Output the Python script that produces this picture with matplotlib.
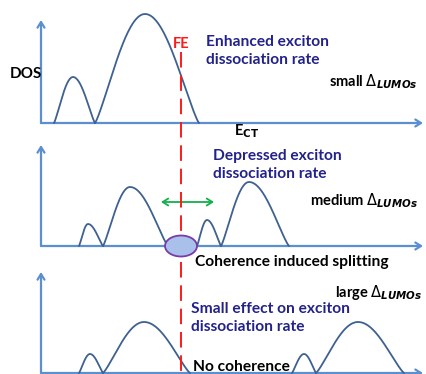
import numpy as np
import matplotlib.pyplot as plt
from matplotlib.patches import Ellipse, FancyArrowPatch

plt.rcParams['font.family'] = ['Lato', 'DejaVu Sans']
plt.rcParams['mathtext.fontset'] = 'dejavusans'

AXIS_C = '#5b8fcf'
CURVE_C = '#3e6191'
NAVY = '#22228a'

# each panel: baseline y, y-axis top, list of bumps (start, peak, end, height)
panel_base = [123, 246, 373]
panel_top = [20, 145, 272]
bumps = [
    [(54, 73, 95, 46), (95, 145, 199, 109)],
    [(79, 88, 103, 22), (103, 130, 168, 59), (197, 207, 221, 26), (221, 249, 289, 64)],
    [(79, 90, 103, 19), (103, 144, 190, 51), (292, 304, 316, 19), (316, 358, 404, 51)],
]
labels_rate = ['Enhanced exciton\ndissociation rate',
               'Depressed exciton\ndissociation rate',
               'Small effect on exciton\ndissociation rate']
labels_delta = ['small', 'medium', 'large']
fe_x = 181


def bump_curve(x0, xp, x1, h, n=80, p=1.2):
    # sine arch, slightly rounded where it meets the baseline
    xl = np.linspace(x0, xp, n)
    xr = np.linspace(xp, x1, n)
    yl = h * np.sin(np.pi / 2 * (xl - x0) / (xp - x0)) ** p
    yr = h * np.cos(np.pi / 2 * (xr - xp) / (x1 - xp)).clip(0) ** p
    return np.concatenate([xl, xr]), np.concatenate([yl, yr])


fig = plt.figure(figsize=(4.27, 3.74), dpi=100)
ax = fig.add_axes([0, 0, 1, 1])
ax.set_xlim(0, 427)
ax.set_ylim(374, 0)
ax.axis('off')

for base, top, bl in zip(panel_base, panel_top, bumps):
    # axes with arrow heads
    for (xa, ya), (xb, yb) in [((41, base), (41, top)), ((41, base), (423, base))]:
        ax.add_patch(FancyArrowPatch((xa, ya), (xb, yb), arrowstyle='->,head_length=4,head_width=2.5',
                                     color=AXIS_C, lw=1.6, mutation_scale=1, shrinkA=0, shrinkB=0))
    for b in bl:
        xs, ys = bump_curve(*b)
        ax.plot(xs, base - ys, color=CURVE_C, lw=1.3, solid_capstyle='round')

# Fermi energy marker
ax.plot([fe_x, fe_x], [52, 374], color='#ff1a1a', lw=1.4, dashes=(8, 4))
ax.text(fe_x, 44, 'FE', color='#ff1a1a', fontsize=10.5, fontweight='bold', ha='center', va='center')

# splitting region at FE in the middle panel
ax.add_patch(Ellipse((fe_x, panel_base[1]), 32, 21, facecolor='#a9c1ea', edgecolor='#7a3aa8', lw=1.3, zorder=3))
ax.add_patch(FancyArrowPatch((161, 202), (214, 202), arrowstyle='<->,head_length=4,head_width=2.5',
                             color='#12b04a', lw=1.3, mutation_scale=1, shrinkA=0, shrinkB=0))

ax.text(10, 74, 'DOS', fontsize=11, fontweight='bold', va='center')
ax.text(234, 131, r'E$_{\mathbf{CT}}$', fontsize=10.5, fontweight='bold', va='center')

rate_pos = [(206, 51), (213, 165), (191, 318)]
for (x, y), s in zip(rate_pos, labels_rate):
    ax.text(x, y, s, color=NAVY, fontsize=11.2, fontweight='bold', va='center', linespacing=1.3)

delta_pos = [(329, 82), (310, 201), (335, 293)]
for (x, y), s in zip(delta_pos, labels_delta):
    ax.text(x, y, s + r' $\Delta_{\mathbfit{LUMOs}}$', fontsize=10.5, fontweight='bold', va='center')

ax.text(195, 262, 'Coherence induced splitting', fontsize=11.2, fontweight='bold', va='center')
ax.text(193, 367, 'No coherence', fontsize=11.2, fontweight='bold', va='center')

fig.savefig('out.png', dpi=100)
